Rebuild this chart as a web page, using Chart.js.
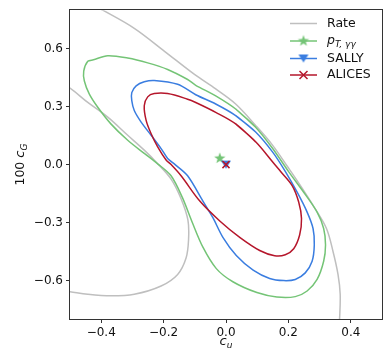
<!DOCTYPE html>
<html>
<head>
<meta charset="utf-8">
<script src="https://cdn.jsdelivr.net/npm/chart.js@4"></script>
<style>
body { margin: 0; background: #fff; }
#wrap { width: 390px; height: 355px; }
</style>
</head>
<body>
<div id="wrap"><canvas id="cChart"></canvas></div>
<script>
// tick values
var xTicks = [-0.4, -0.2, 0.0, 0.2, 0.4];
var yTicks = [-0.6, -0.3, 0.0, 0.3, 0.6];

// contours, [c_u, 100 c_G]
var rateUpper = [[-0.42, 0.82], [-0.395, 0.80], [-0.294, 0.706], [-0.197, 0.587], [-0.101, 0.467],
  [-0.033, 0.392], [0.031, 0.314], [0.095, 0.203], [0.149, 0.101], [0.197, -0.010], [0.235, -0.100],
  [0.286, -0.229], [0.322, -0.331], [0.343, -0.450], [0.359, -0.569], [0.366, -0.672],
  [0.364, -0.80], [0.362, -0.82]];
var rateLower = [[-0.52, 0.41], [-0.499, 0.395], [-0.443, 0.322], [-0.379, 0.246], [-0.315, 0.152],
  [-0.262, 0.075], [-0.222, 0.01], [-0.176, -0.075], [-0.144, -0.177], [-0.122, -0.288],
  [-0.120, -0.388], [-0.128, -0.484], [-0.155, -0.569], [-0.208, -0.629], [-0.294, -0.672],
  [-0.369, -0.680], [-0.443, -0.672], [-0.502, -0.658], [-0.52, -0.655]];
var ptContour = [[0.031, 0.288], [0.095, 0.194], [0.149, 0.085], [0.200, -0.035],
  [0.249, -0.143], [0.292, -0.246], [0.313, -0.331], [0.319, -0.416], [0.313, -0.501],
  [0.292, -0.595], [0.260, -0.655], [0.222, -0.684], [0.163, -0.686], [0.099, -0.663],
  [0.022, -0.607], [-0.031, -0.539], [-0.074, -0.428], [-0.108, -0.300], [-0.140, -0.170],
  [-0.176, -0.058], [-0.219, 0.004], [-0.262, 0.058], [-0.315, 0.126], [-0.369, 0.211],
  [-0.411, 0.297], [-0.438, 0.365], [-0.454, 0.433], [-0.456, 0.484], [-0.443, 0.535],
  [-0.425, 0.543], [-0.379, 0.564], [-0.315, 0.552], [-0.251, 0.527], [-0.187, 0.493],
  [-0.123, 0.441], [-0.097, 0.411], [-0.033, 0.356], [0.031, 0.288]];
var sallyContour = [[0.031, 0.254], [0.095, 0.169], [0.149, 0.066], [0.188, -0.030], [0.228, -0.143],
  [0.260, -0.246], [0.279, -0.331], [0.283, -0.416], [0.276, -0.501], [0.254, -0.561],
  [0.222, -0.595], [0.185, -0.601], [0.140, -0.590], [0.087, -0.547], [0.033, -0.471],
  [-0.010, -0.377], [-0.042, -0.275], [-0.074, -0.189], [-0.123, -0.058], [-0.163, 0.0],
  [-0.187, 0.032], [-0.208, 0.083], [-0.240, 0.152], [-0.272, 0.220], [-0.294, 0.280],
  [-0.302, 0.331], [-0.302, 0.373], [-0.288, 0.408], [-0.262, 0.429], [-0.230, 0.436],
  [-0.155, 0.416], [-0.097, 0.362], [-0.033, 0.314], [0.031, 0.254]];
var alicesContour = [[0.031, 0.211], [0.095, 0.118], [0.149, 0.015], [0.175, -0.036], [0.212, -0.109],
  [0.233, -0.194], [0.242, -0.280], [0.236, -0.365], [0.217, -0.436], [0.190, -0.467],
  [0.156, -0.472], [0.108, -0.445], [0.044, -0.377], [-0.020, -0.292], [-0.084, -0.189],
  [-0.144, -0.058], [-0.176, 0.0], [-0.192, 0.024], [-0.219, 0.092], [-0.240, 0.160],
  [-0.256, 0.229], [-0.262, 0.305], [-0.251, 0.351], [-0.230, 0.368], [-0.187, 0.368],
  [-0.123, 0.339], [-0.097, 0.322], [-0.033, 0.271], [0.031, 0.211]];

// best fit points
var ptBest = [-0.02, 0.035];
var sallyBest = [0.0, 0.0];
var alicesBest = [0.0, 0.0];

var seriesColors = ['#bfbfbf', '#74c476', '#3a7de0', '#b5162b'];

function pts(arr) { return arr.map(function (p) { return { x: p[0], y: p[1] }; }); }

function starMarker(color) {
  var c = document.createElement('canvas');
  c.width = 14; c.height = 14;
  var g = c.getContext('2d');
  g.beginPath();
  for (var i = 0; i < 10; i++) {
    var r = i % 2 ? 2.4 : 6;
    var a = -Math.PI / 2 + i * Math.PI / 5;
    g.lineTo(7 + r * Math.cos(a), 7.5 + r * Math.sin(a));
  }
  g.closePath();
  g.fillStyle = color;
  g.fill();
  return c;
}
function triMarker(color) {
  var c = document.createElement('canvas');
  c.width = 12; c.height = 12;
  var g = c.getContext('2d');
  g.beginPath();
  g.moveTo(1, 2); g.lineTo(11, 2); g.lineTo(6, 10);
  g.closePath();
  g.fillStyle = color;
  g.fill();
  return c;
}
var starImg = starMarker(seriesColors[1]);
var triImg = triMarker(seriesColors[2]);

function fmt(v) { return v.toFixed(1).replace('-', '\u2212'); }

// draws runs of text: [text, italic, size, dy]
function drawRuns(ctx, runs, x, y, align) {
  var fnt = function (r) { return (r[1] ? 'italic ' : '') + r[2] + 'px "DejaVu Sans"'; };
  var w = 0;
  runs.forEach(function (r) { ctx.font = fnt(r); w += ctx.measureText(r[0]).width; });
  var cx = align === 'center' ? x - w / 2 : x;
  runs.forEach(function (r) {
    ctx.font = fnt(r);
    ctx.fillText(r[0], cx, y + r[3]);
    cx += ctx.measureText(r[0]).width;
  });
}

var mplDecor = {
  id: 'mplDecor',
  afterDraw: function (chart) {
    var ctx = chart.ctx, a = chart.chartArea;
    ctx.save();
    // frame
    ctx.strokeStyle = '#333';
    ctx.lineWidth = 1;
    ctx.strokeRect(Math.round(a.left) - 0.5, Math.round(a.top) - 0.5,
      Math.round(a.right - a.left) + 1, Math.round(a.bottom - a.top) + 1);

    ctx.fillStyle = '#111';
    ctx.textBaseline = 'middle';
    // axis titles
    drawRuns(ctx, [['c', true, 13, 0], ['u', true, 9, 4]], (a.left + a.right) / 2, 342, 'center');
    ctx.save();
    ctx.translate(21, (a.top + a.bottom) / 2);
    ctx.rotate(-Math.PI / 2);
    drawRuns(ctx, [['100 ', false, 12.5, 0], ['c', true, 13, 0], ['G', true, 9, 4]], 0, 0, 'center');
    ctx.restore();

    // legend
    var rows = [23.5, 41, 58.5, 75];
    var lx0 = 290, lx1 = 317, mx = 303.5, tx = 327;
    ctx.lineWidth = 1.5;
    for (var i = 0; i < 4; i++) {
      ctx.strokeStyle = seriesColors[i];
      ctx.beginPath(); ctx.moveTo(lx0, rows[i]); ctx.lineTo(lx1, rows[i]); ctx.stroke();
    }
    ctx.drawImage(starImg, mx - 7, rows[1] - 7.5);
    ctx.drawImage(triImg, mx - 6, rows[2] - 6);
    ctx.strokeStyle = seriesColors[3];
    ctx.beginPath();
    ctx.moveTo(mx - 4, rows[3] - 4); ctx.lineTo(mx + 4, rows[3] + 4);
    ctx.moveTo(mx - 4, rows[3] + 4); ctx.lineTo(mx + 4, rows[3] - 4);
    ctx.stroke();

    ctx.fillStyle = '#111';
    ctx.font = '12.5px "DejaVu Sans"';
    ctx.fillText('Rate', tx, rows[0]);
    drawRuns(ctx, [['p', true, 12.5, 0], ['T, \u03b3\u03b3', true, 9, 4]], tx, rows[1], 'left');
    ctx.font = '12.5px "DejaVu Sans"';
    ctx.fillText('SALLY', tx, rows[2]);
    ctx.fillText('ALICES', tx, rows[3]);
    ctx.restore();
  }
};

// closed loops get their second point repeated so the spline is smooth at the seam
function contour(arr, color, tension, order, closed) {
  var d = closed ? arr.concat([arr[1]]) : arr;
  return {
    data: pts(d), showLine: true, borderColor: color, borderWidth: 1.5,
    pointRadius: 0, tension: tension, fill: false, clip: 0, order: order
  };
}

var ctx = document.getElementById('cChart').getContext('2d');
var cChart = new Chart(ctx, {
  type: 'scatter',
  data: {
    datasets: [
      contour(rateUpper, seriesColors[0], 0.35, 8, false),
      contour(rateLower, seriesColors[0], 0.35, 7, false),
      contour(ptContour, seriesColors[1], 0.3, 6, true),
      contour(sallyContour, seriesColors[2], 0.3, 5, true),
      contour(alicesContour, seriesColors[3], 0.35, 4, true),
      { data: pts([ptBest]), pointStyle: starImg, pointRadius: 6, order: 3 },
      { data: pts([sallyBest]), pointStyle: triImg, pointRadius: 6, order: 2 },
      { data: pts([alicesBest]), pointStyle: 'crossRot', pointRadius: 5, borderWidth: 1.5,
        borderColor: seriesColors[3], order: 1 }
    ]
  },
  options: {
    responsive: true,
    maintainAspectRatio: false,
    animation: false,
    layout: { padding: { top: 7, right: 8, left: 0, bottom: 0 } },
    plugins: { legend: { display: false }, tooltip: { enabled: false } },
    scales: {
      x: {
        type: 'linear', min: -0.5, max: 0.5,
        afterBuildTicks: function (ax) { ax.ticks = xTicks.map(function (v) { return { value: v }; }); },
        afterFit: function (ax) { ax.height = 36; },
        grid: { drawOnChartArea: false, drawTicks: true, tickLength: 4, tickColor: '#333' },
        border: { display: false },
        ticks: { color: '#111', padding: 3, maxRotation: 0, font: { family: 'DejaVu Sans', size: 12 }, callback: fmt }
      },
      y: {
        type: 'linear', min: -0.8, max: 0.8,
        afterBuildTicks: function (ax) { ax.ticks = yTicks.map(function (v) { return { value: v }; }); },
        afterFit: function (ax) { ax.width = 70; },
        grid: { drawOnChartArea: false, drawTicks: true, tickLength: 4, tickColor: '#333' },
        border: { display: false },
        ticks: { color: '#111', padding: 3, font: { family: 'DejaVu Sans', size: 12 }, callback: fmt }
      }
    }
  },
  plugins: [mplDecor]
});
</script>
</body>
</html>
